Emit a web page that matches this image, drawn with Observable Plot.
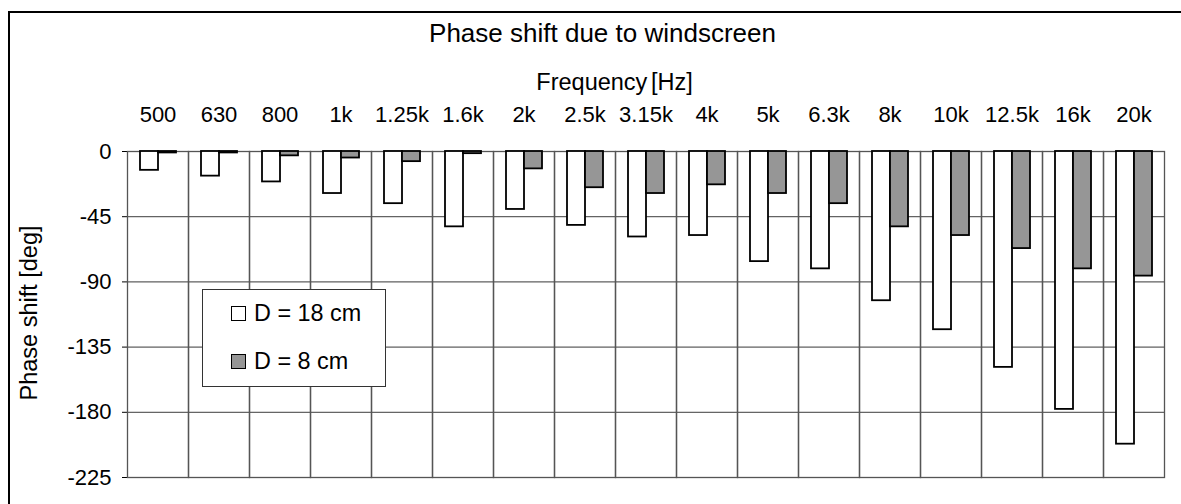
<!DOCTYPE html>
<html>
<head>
<meta charset="utf-8">
<script src="https://cdn.jsdelivr.net/npm/d3@7"></script>
<script src="https://cdn.jsdelivr.net/npm/@observablehq/plot@0.6"></script>
<style>
  html, body { margin: 0; padding: 0; background: #fff; overflow: hidden; }
  #wrap { position: relative; width: 1181px; height: 504px; overflow: hidden; font-family: "Liberation Sans", Arial, sans-serif; color: #000; }
  #border { position: absolute; left: 8px; top: 11px; width: 1200px; height: 520px; border: 2px solid #000; box-sizing: border-box; }
  #chart { position: absolute; left: 0; top: 0; }
  #title { position: absolute; left: 0; width: 1205px; top: 20px; text-align: center; font-size: 26px; line-height: 1; white-space: nowrap; }
  #xlabel { position: absolute; left: 0; width: 1229px; top: 71px; text-align: center; font-size: 23.5px; line-height: 1; white-space: nowrap; word-spacing: -3px; }
  #ylabel { position: absolute; left: 30px; top: 313px; transform: translate(-50%, -50%) rotate(-90deg); font-size: 23.5px; line-height: 1; white-space: nowrap; }
  #legend { position: absolute; left: 202px; top: 289px; width: 184px; height: 98px; border: 1px solid #333; background: #fff; box-sizing: border-box; font-size: 23.4px; }
  .item { position: absolute; left: 28px; display: flex; align-items: center; white-space: nowrap; line-height: 1; }
  .sw { width: 15px; height: 15px; border: 1.5px solid #000; margin-right: 8px; box-sizing: border-box; }
</style>
</head>
<body>
<div id="wrap">
  <div id="border"></div>
  <div id="chart"></div>
  <div id="title">Phase shift due to windscreen</div>
  <div id="xlabel">Frequency [Hz]</div>
  <div id="ylabel">Phase shift [deg]</div>
  <div id="legend"></div>
</div>
<script>
const frequencies = ["500","630","800","1k","1.25k","1.6k","2k","2.5k","3.15k","4k","5k","6.3k","8k","10k","12.5k","16k","20k"];
const seriesNames = ["D = 18 cm", "D = 8 cm"];
const phaseD18 = [-13,-17,-21,-29,-36,-52,-40,-51,-59,-58,-76,-81,-103,-123,-149,-178,-202];
const phaseD8  = [-1,-1,-3,-4.5,-7,-1.5,-12,-25,-29,-23,-29,-36,-52,-58,-67,-81,-86];
const yTicks = [0,-45,-90,-135,-180,-225];
const seriesColors = ["#ffffff", "#969696"];

const data = [];
frequencies.forEach((f, i) => {
  data.push({freq: f, series: seriesNames[0], value: phaseD18[i]});
  data.push({freq: f, series: seriesNames[1], value: phaseD8[i]});
});

const chart = Plot.plot({
  width: 1181,
  height: 504,
  marginLeft: 125,
  marginRight: 15,
  marginTop: 151,
  marginBottom: 27,
  style: {fontFamily: "'Liberation Sans', Arial, sans-serif", fontSize: "22px", color: "#000", background: "transparent"},
  fx: {domain: frequencies, padding: 0, axis: "top", label: null, tickSize: 0, tickPadding: 30},
  x: {domain: seriesNames, paddingInner: 0, paddingOuter: 0.64, axis: null},
  y: {domain: [-225, 0], ticks: yTicks, tickFormat: d => String(d), tickSize: 5, tickPadding: 11,
      grid: true, label: null},
  color: {domain: seriesNames, range: seriesColors},
  marks: [
    Plot.gridY(yTicks, {stroke: "#444", strokeOpacity: 1, strokeWidth: 1}),
    Plot.frame({stroke: "#555", strokeWidth: 1.3}),
    Plot.barY(data, {fx: "freq", x: "series", y: "value", fill: "series", stroke: "#000", strokeWidth: 1.8})
  ]
});
document.getElementById("chart").appendChild(chart);

const legend = document.getElementById("legend");
seriesNames.forEach((name, i) => {
  const item = document.createElement("div");
  item.className = "item";
  item.style.top = (i === 0 ? 12 : 60) + "px";
  const sw = document.createElement("div");
  sw.className = "sw";
  sw.style.background = seriesColors[i];
  item.appendChild(sw);
  const t = document.createElement("span");
  t.textContent = name;
  item.appendChild(t);
  legend.appendChild(item);
});
</script>
</body>
</html>
